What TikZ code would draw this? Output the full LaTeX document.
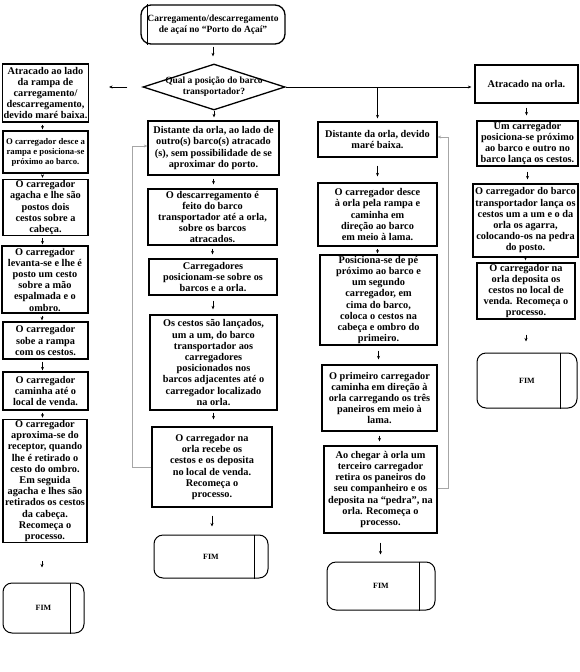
\documentclass[tikz,border=0pt]{standalone}
\usepackage{fontspec}
\setmainfont{Liberation Serif}
\usetikzlibrary{positioning, shapes.geometric, arrows.meta, calc}

\begin{document}
\begin{tikzpicture}[x=1pt, y=-1pt,
    box/.style={draw, line width=1.3pt, align=center, inner sep=1pt,
      font=\fontsize{10.3}{11.2}\selectfont\bfseries},
    endbox/.style={draw, line width=1pt, rounded corners=9pt,
      font=\fontsize{8}{9}\selectfont\bfseries},
    flow/.style={-{Stealth[length=3.5pt,width=3pt]}, line width=0.6pt},
    backflow/.style={flow, draw=gray!70, line width=0.8pt}]
  \useasboundingbox (0,0) rectangle (580,672);

  % start and question
  \node[endbox, rounded corners=10pt, line width=1.3pt, align=center,
    minimum width=144pt, minimum height=39pt,
    font=\fontsize{9.5}{11}\selectfont\bfseries] (start) at (213,24.5)
    {Carregamento/descarregamento\\ de açaí no “Porto do Açaí”};
  \draw[line width=1.3pt] ([xshift=7pt]start.north west) -- ([xshift=7pt]start.south west);
  \node[draw, diamond, line width=1.3pt, inner sep=0pt,
    minimum width=142pt, minimum height=46pt,
    label={[align=center, font=\fontsize{9.5}{11}\selectfont\bfseries]center:{Qual a posição do barco\\ transportador?}}]
    (q) at (214,87) {};

  % left column
  \node[box, minimum width=85pt, minimum height=58pt] (l1) at (45.5,93)
    {Atracado ao lado\\ da rampa de\\ carregamento/\\ descarregamento,\\ devido maré baixa.};
  \node[box, minimum width=85pt, minimum height=42pt,
    font=\fontsize{8.7}{10}\selectfont\bfseries] (l2) at (45.5,152)
    {O carregador desce a\\ rampa e posiciona-se\\ próximo ao barco.};
  \node[box, minimum width=85pt, minimum height=51pt] (l3) at (45.5,207.5)
    {O carregador\\ agacha e lhe são\\ postos dois\\ cestos sobre a\\ cabeça.};
  \node[box, minimum width=86pt, minimum height=67pt] (l4) at (45,279.5)
    {O carregador\\ levanta-se e lhe é\\ posto um cesto\\ sobre a mão\\ espalmada e o\\ ombro.};
  \node[box, minimum width=85pt, minimum height=37pt] (l5) at (45.5,340.5)
    {O carregador\\ sobe a rampa\\ com os cestos.};
  \node[box, minimum width=85pt, minimum height=38pt] (l6) at (45.5,391)
    {O carregador\\ caminha até o\\ local de venda.};
  \node[box, minimum width=84pt, minimum height=116pt] (l7) at (45,481)
    {O carregador\\ aproxima-se do\\ receptor, quando\\ lhe é retirado o\\ cesto do ombro.\\ Em seguida\\ agacha e lhes são\\ retirados os cestos\\ da cabeça.\\ Recomeça o\\ processo.};
  \node[endbox, minimum width=81pt, minimum height=50pt] (lfim) at (43.5,608) {FIM};
  \draw[line width=1pt] ([xshift=-14pt]lfim.north east) -- ([xshift=-14pt]lfim.south east);

  % middle left column
  \node[box, minimum width=131pt, minimum height=54pt] (ma) at (213.5,148)
    {Distante da orla, ao lado de\\ outro(s) barco(s) atracado\\ (s), sem possibilidade de se\\ aproximar do porto.};
  \node[box, minimum width=129pt, minimum height=56pt] (mb) at (212.5,217)
    {O descarregamento é\\ feito do barco\\ transportador até a orla,\\ sobre os barcos\\ atracados.};
  \node[box, minimum width=128pt, minimum height=36pt] (mc) at (213,277)
    {Carregadores\\ posicionam-se sobre os\\ barcos e a orla.};
  \node[box, minimum width=127pt, minimum height=95pt] (md) at (213.5,362.5)
    {Os cestos são lançados,\\ um a um, do barco\\ transportador aos\\ carregadores\\ posicionados nos\\ barcos adjacentes até o\\ carregador localizado\\ na orla.};
  \node[box, minimum width=120pt, minimum height=80pt] (me) at (212,467)
    {O carregador na\\ orla recebe os\\ cestos e os deposita\\ no local de venda.\\ Recomeça o\\ processo.};
  \node[endbox, minimum width=114pt, minimum height=43pt] (mfim) at (211,556.5) {FIM};
  \draw[line width=1pt] ([xshift=-14pt]mfim.north east) -- ([xshift=-14pt]mfim.south east);

  % middle right column
  \node[box, minimum width=119pt, minimum height=35pt] (ra) at (377.5,139.5)
    {Distante da orla, devido\\ maré baixa.};
  \node[box, minimum width=119pt, minimum height=63pt] (rb) at (377.5,214.5)
    {O carregador desce\\ à orla pela rampa e\\ caminha em\\ direção ao barco\\ em meio à lama.};
  \node[box, minimum width=117pt, minimum height=86pt] (rc) at (378.5,300)
    {Posiciona-se de pé\\ próximo ao barco e\\ um segundo\\ carregador, em\\ cima do barco,\\ coloca o cestos na\\ cabeça e ombro do\\ primeiro.};
  \node[box, minimum width=115pt, minimum height=66pt] (rd) at (379.5,398)
    {O primeiro carregador\\ caminha em direção à\\ orla carregando os três\\ paneiros em meio à\\ lama.};
  \node[box, minimum width=113pt, minimum height=87pt] (re) at (380.5,489.5)
    {Ao chegar à orla um\\ terceiro carregador\\ retira os paneiros do\\ seu companheiro e os\\ deposita na “pedra”, na\\ orla. Recomeça o\\ processo.};
  \node[endbox, minimum width=108pt, minimum height=48pt] (rfim) at (381,586) {FIM};
  \draw[line width=1pt] ([xshift=-16pt]rfim.north east) -- ([xshift=-16pt]rfim.south east);

  % right column
  \node[box, minimum width=103pt, minimum height=38pt] (sa) at (526.5,84)
    {Atracado na orla.};
  \node[box, minimum width=101pt, minimum height=43pt] (sb) at (527.5,143.5)
    {Um carregador\\ posiciona-se próximo\\ ao barco e outro no\\ barco lança os cestos.};
  \node[box, minimum width=105pt, minimum height=73pt] (sc) at (525.5,220.5)
    {O carregador do barco\\ transportador lança os\\ cestos um a um e o da\\ orla os agarra,\\ colocando-os na pedra\\ do posto.};
  \node[box, minimum width=98pt, minimum height=48pt] (sd) at (526,291)
    {O carregador na\\ orla deposita os\\ cestos no local de\\ venda. Recomeça o\\ processo.};
  \node[endbox, minimum width=100pt, minimum height=55pt] (sfim) at (527,380.5) {FIM};
  \draw[line width=1pt] ([xshift=-17pt]sfim.north east) -- ([xshift=-17pt]sfim.south east);

  % connectors from the question
  \draw[flow, shorten <=2pt, shorten >=7pt] (start.south) -- (start.south |- q.north);
  \draw[flow, shorten <=15pt, shorten >=20pt] (q.west) -- (q.west -| l1.east);
  \draw[flow, shorten >=3pt] (q.east) -- (q.east -| sa.west);
  \coordinate (split) at (q.east -| ra.north);
  \draw[flow, shorten >=3pt] (split) -- (ra.north);
  \draw[flow, shorten >=3pt] (q.south) -- (q.south |- ma.north);

  % left column arrows
  \foreach \a/\b in {l1/l2, l2/l3, l3/l4, l4/l5, l5/l6, l6/l7}
    \draw[flow, shorten <=2pt, shorten >=1pt] ([xshift=-3pt]\a.south) -- ([xshift=-3pt]\a.south |- \b.north);
  \draw[flow, shorten <=18pt, shorten >=15pt] ([xshift=-3pt]l7.south) -- ([xshift=-3pt]l7.south |- lfim.north);

  % middle left arrows
  \draw[flow, shorten <=3pt, shorten >=4pt] (ma.south) -- (ma.south |- mb.north);
  \draw[flow, shorten <=3pt, shorten >=4pt] (mb.south) -- (mb.south |- mc.north);
  \draw[flow, shorten <=5pt, shorten >=5pt] (mc.south) -- (mc.south |- md.north);
  \draw[flow, shorten <=2pt, shorten >=7pt] (md.south) -- (md.south |- me.north);
  \draw[flow, shorten <=8pt, shorten >=8pt] (me.south) -- (me.south |- mfim.north);
  \draw[backflow] (me.west) -- ++(-19,0) |- ([yshift=2pt]ma.west);

  % middle right arrows
  \draw[flow, shorten <=8pt, shorten >=6pt] (ra.south) -- (ra.south |- rb.north);
  \draw[flow, shorten <=2pt, shorten >=1pt] (rb.south) -- (rb.south |- rc.north);
  \draw[flow, shorten <=5pt, shorten >=5pt] (rc.south) -- (rc.south |- rd.north);
  \draw[flow, shorten <=4pt, shorten >=4pt] (rd.south) -- (rd.south |- re.north);
  \draw[flow, shorten <=9pt, shorten >=7pt] (re.south) -- (re.south |- rfim.north);
  \draw[backflow] ([yshift=1pt]re.east) -- ++(11,0) |- ([yshift=2.5pt]ra.east);

  % right column arrows
  \draw[flow, shorten <=4pt, shorten >=5pt] (sa.south) -- (sa.south |- sb.north);
  \draw[flow, shorten <=5pt, shorten >=4pt] (sb.south) -- (sb.south |- sc.north);
  \draw[flow, shorten <=1pt, shorten >=2pt] (sc.south) -- (sc.south |- sd.north);
  \draw[flow, shorten <=15pt, shorten >=11pt] (sd.south) -- (sd.south |- sfim.north);
\end{tikzpicture}
\end{document}
